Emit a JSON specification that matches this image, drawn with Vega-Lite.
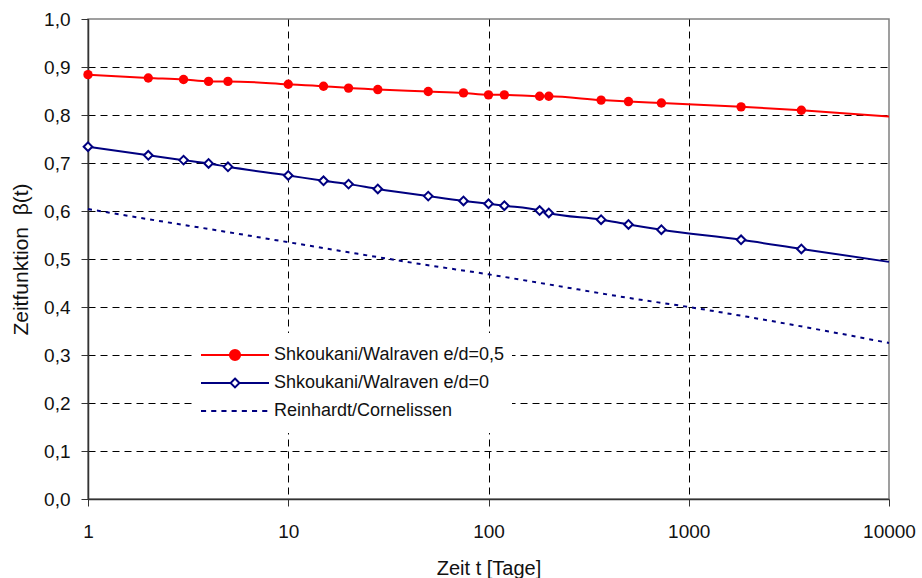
{
  "$schema": "https://vega.github.io/schema/vega-lite/v6.json",
  "width": 801,
  "height": 480,
  "autosize": {"type": "none"},
  "padding": {"left": 88, "top": 19, "right": 33, "bottom": 79},
  "background": "white",
  "config": {
    "font": "Liberation Sans",
    "view": {"stroke": "#808080", "strokeWidth": 1.5},
    "axis": {
      "labelFont": "Liberation Sans",
      "titleFont": "Liberation Sans",
      "labelFontSize": 19,
      "titleFontSize": 20,
      "labelColor": "#111",
      "titleColor": "#111",
      "titleFontWeight": "normal",
      "domainColor": "#333",
      "domainWidth": 1.5,
      "tickColor": "#333",
      "tickSize": 7,
      "gridColor": "#000",
      "gridDash": [7, 5],
      "gridWidth": 1
    },
    "legend": {
      "labelFont": "Liberation Sans",
      "orient": "none",
      "legendX": 104,
      "legendY": 314,
      "padding": 8,
      "fillColor": "white",
      "symbolSize": 4624,
      "symbolStrokeWidth": 2,
      "labelFontSize": 18,
      "labelColor": "#111",
      "labelOffset": 4,
      "labelLimit": 500,
      "clipHeight": 28,
      "rowPadding": 0
    }
  },
  "data": {
    "values": [
      {"serie": "Shkoukani/Walraven e/d=0,5", "t": 1, "beta": 0.884, "messpunkt": true},
      {"serie": "Shkoukani/Walraven e/d=0,5", "t": 2, "beta": 0.877, "messpunkt": true},
      {"serie": "Shkoukani/Walraven e/d=0,5", "t": 3, "beta": 0.874, "messpunkt": true},
      {"serie": "Shkoukani/Walraven e/d=0,5", "t": 4, "beta": 0.870, "messpunkt": true},
      {"serie": "Shkoukani/Walraven e/d=0,5", "t": 5, "beta": 0.870, "messpunkt": true},
      {"serie": "Shkoukani/Walraven e/d=0,5", "t": 10, "beta": 0.864, "messpunkt": true},
      {"serie": "Shkoukani/Walraven e/d=0,5", "t": 15, "beta": 0.860, "messpunkt": true},
      {"serie": "Shkoukani/Walraven e/d=0,5", "t": 20, "beta": 0.856, "messpunkt": true},
      {"serie": "Shkoukani/Walraven e/d=0,5", "t": 28, "beta": 0.853, "messpunkt": true},
      {"serie": "Shkoukani/Walraven e/d=0,5", "t": 50, "beta": 0.849, "messpunkt": true},
      {"serie": "Shkoukani/Walraven e/d=0,5", "t": 75, "beta": 0.846, "messpunkt": true},
      {"serie": "Shkoukani/Walraven e/d=0,5", "t": 100, "beta": 0.842, "messpunkt": true},
      {"serie": "Shkoukani/Walraven e/d=0,5", "t": 120, "beta": 0.842, "messpunkt": true},
      {"serie": "Shkoukani/Walraven e/d=0,5", "t": 180, "beta": 0.839, "messpunkt": true},
      {"serie": "Shkoukani/Walraven e/d=0,5", "t": 200, "beta": 0.839, "messpunkt": true},
      {"serie": "Shkoukani/Walraven e/d=0,5", "t": 365, "beta": 0.831, "messpunkt": true},
      {"serie": "Shkoukani/Walraven e/d=0,5", "t": 500, "beta": 0.828, "messpunkt": true},
      {"serie": "Shkoukani/Walraven e/d=0,5", "t": 730, "beta": 0.825, "messpunkt": true},
      {"serie": "Shkoukani/Walraven e/d=0,5", "t": 1825, "beta": 0.817, "messpunkt": true},
      {"serie": "Shkoukani/Walraven e/d=0,5", "t": 3650, "beta": 0.810, "messpunkt": true},
      {"serie": "Shkoukani/Walraven e/d=0,5", "t": 10000, "beta": 0.797, "messpunkt": false},
      {"serie": "Shkoukani/Walraven e/d=0", "t": 1, "beta": 0.734, "messpunkt": true},
      {"serie": "Shkoukani/Walraven e/d=0", "t": 2, "beta": 0.716, "messpunkt": true},
      {"serie": "Shkoukani/Walraven e/d=0", "t": 3, "beta": 0.706, "messpunkt": true},
      {"serie": "Shkoukani/Walraven e/d=0", "t": 4, "beta": 0.699, "messpunkt": true},
      {"serie": "Shkoukani/Walraven e/d=0", "t": 5, "beta": 0.692, "messpunkt": true},
      {"serie": "Shkoukani/Walraven e/d=0", "t": 10, "beta": 0.674, "messpunkt": true},
      {"serie": "Shkoukani/Walraven e/d=0", "t": 15, "beta": 0.663, "messpunkt": true},
      {"serie": "Shkoukani/Walraven e/d=0", "t": 20, "beta": 0.656, "messpunkt": true},
      {"serie": "Shkoukani/Walraven e/d=0", "t": 28, "beta": 0.646, "messpunkt": true},
      {"serie": "Shkoukani/Walraven e/d=0", "t": 50, "beta": 0.631, "messpunkt": true},
      {"serie": "Shkoukani/Walraven e/d=0", "t": 75, "beta": 0.621, "messpunkt": true},
      {"serie": "Shkoukani/Walraven e/d=0", "t": 100, "beta": 0.615, "messpunkt": true},
      {"serie": "Shkoukani/Walraven e/d=0", "t": 120, "beta": 0.611, "messpunkt": true},
      {"serie": "Shkoukani/Walraven e/d=0", "t": 180, "beta": 0.601, "messpunkt": true},
      {"serie": "Shkoukani/Walraven e/d=0", "t": 200, "beta": 0.596, "messpunkt": true},
      {"serie": "Shkoukani/Walraven e/d=0", "t": 365, "beta": 0.582, "messpunkt": true},
      {"serie": "Shkoukani/Walraven e/d=0", "t": 500, "beta": 0.572, "messpunkt": true},
      {"serie": "Shkoukani/Walraven e/d=0", "t": 730, "beta": 0.561, "messpunkt": true},
      {"serie": "Shkoukani/Walraven e/d=0", "t": 1825, "beta": 0.540, "messpunkt": true},
      {"serie": "Shkoukani/Walraven e/d=0", "t": 3650, "beta": 0.521, "messpunkt": true},
      {"serie": "Shkoukani/Walraven e/d=0", "t": 10000, "beta": 0.494, "messpunkt": false},
      {"serie": "Reinhardt/Cornelissen", "t": 1, "beta": 0.604, "messpunkt": false},
      {"serie": "Reinhardt/Cornelissen", "t": 2, "beta": 0.583, "messpunkt": false},
      {"serie": "Reinhardt/Cornelissen", "t": 5, "beta": 0.556, "messpunkt": false},
      {"serie": "Reinhardt/Cornelissen", "t": 10, "beta": 0.535, "messpunkt": false},
      {"serie": "Reinhardt/Cornelissen", "t": 20, "beta": 0.514, "messpunkt": false},
      {"serie": "Reinhardt/Cornelissen", "t": 50, "beta": 0.487, "messpunkt": false},
      {"serie": "Reinhardt/Cornelissen", "t": 100, "beta": 0.468, "messpunkt": false},
      {"serie": "Reinhardt/Cornelissen", "t": 200, "beta": 0.447, "messpunkt": false},
      {"serie": "Reinhardt/Cornelissen", "t": 500, "beta": 0.419, "messpunkt": false},
      {"serie": "Reinhardt/Cornelissen", "t": 1000, "beta": 0.400, "messpunkt": false},
      {"serie": "Reinhardt/Cornelissen", "t": 2000, "beta": 0.379, "messpunkt": false},
      {"serie": "Reinhardt/Cornelissen", "t": 5000, "beta": 0.349, "messpunkt": false},
      {"serie": "Reinhardt/Cornelissen", "t": 10000, "beta": 0.325, "messpunkt": false}
    ]
  },
  "encoding": {
    "x": {
      "field": "t",
      "type": "quantitative",
      "scale": {"type": "log", "domain": [1, 10000], "nice": false},
      "axis": {
        "title": "Zeit t [Tage]",
        "values": [1, 10, 100, 1000, 10000],
        "format": "d",
        "labelFlush": false,
        "labelOverlap": false,
        "labelPadding": 16,
        "titlePadding": 17,
        "gridOpacity": {"condition": {"test": "datum.value >= 10000", "value": 0}, "value": 1}
      }
    },
    "y": {
      "field": "beta",
      "type": "quantitative",
      "scale": {"domain": [0, 1], "nice": false},
      "axis": {
        "title": "Zeitfunktion\u00a0\u00a0β(t)",
        "titleFontSize": 21,
        "values": [0, 0.1, 0.2, 0.3, 0.4, 0.5, 0.6, 0.7, 0.8, 0.9, 1.0],
        "labelExpr": "replace(format(datum.value, '.1f'), '.', ',')",
        "labelPadding": 11,
        "titlePadding": 12,
        "gridOpacity": {"condition": {"test": "datum.value >= 1", "value": 0}, "value": 1}
      }
    }
  },
  "layer": [
    {
      "transform": [{"filter": "datum.serie == 'Reinhardt/Cornelissen'"}],
      "mark": {"type": "line", "interpolate": "monotone", "strokeWidth": 2, "stroke": "#000080", "strokeDash": [4, 5]}
    },
    {
      "transform": [{"filter": "datum.serie == 'Shkoukani/Walraven e/d=0'"}],
      "mark": {"type": "line", "interpolate": "monotone", "strokeWidth": 2, "stroke": "#000080"}
    },
    {
      "transform": [{"filter": "datum.serie == 'Shkoukani/Walraven e/d=0,5'"}],
      "mark": {"type": "line", "interpolate": "monotone", "strokeWidth": 2, "stroke": "#FF0000"}
    },
    {
      "transform": [{"filter": "datum.messpunkt && datum.serie == 'Shkoukani/Walraven e/d=0,5'"}],
      "mark": {"type": "circle", "size": 88, "color": "#FF0000", "opacity": 1}
    },
    {
      "transform": [{"filter": "datum.messpunkt && datum.serie == 'Shkoukani/Walraven e/d=0'"}],
      "mark": {"type": "point", "shape": "diamond", "size": 75, "filled": true, "fill": "white", "stroke": "#000080", "strokeWidth": 2, "opacity": 1}
    },
    {
      "transform": [{"filter": "datum.t < 0"}],
      "mark": {"type": "point", "opacity": 1},
      "encoding": {
        "shape": {
          "field": "serie",
          "type": "nominal",
          "title": null,
          "scale": {
            "domain": ["Shkoukani/Walraven e/d=0,5", "Shkoukani/Walraven e/d=0", "Reinhardt/Cornelissen"],
            "range": [
              "M-1,0L1,0M0.15,0A0.15,0.15,0,1,1,-0.15,0A0.15,0.15,0,1,1,0.15,0Z",
              "M-1,0L-0.13,0M0.13,0L1,0M0,-0.13L0.13,0L0,0.13L-0.13,0Z",
              "M-1,0L-0.85,0M-0.7,0L-0.55,0M-0.4,0L-0.25,0M-0.1,0L0.05,0M0.2,0L0.35,0M0.5,0L0.65,0M0.8,0L0.95,0"
            ]
          }
        },
        "stroke": {
          "field": "serie",
          "type": "nominal",
          "title": null,
          "scale": {
            "domain": ["Shkoukani/Walraven e/d=0,5", "Shkoukani/Walraven e/d=0", "Reinhardt/Cornelissen"],
            "range": ["#FF0000", "#000080", "#000080"]
          }
        },
        "fill": {
          "field": "serie",
          "type": "nominal",
          "title": null,
          "scale": {
            "domain": ["Shkoukani/Walraven e/d=0,5", "Shkoukani/Walraven e/d=0", "Reinhardt/Cornelissen"],
            "range": ["#FF0000", "#FFFFFF", "transparent"]
          }
        }
      }
    }
  ]
}
